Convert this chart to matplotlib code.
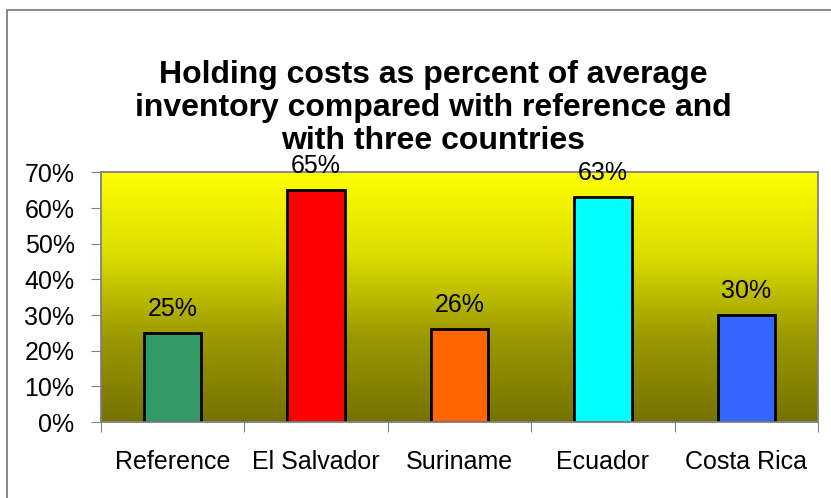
import matplotlib.pyplot as plt
import numpy as np
from matplotlib.colors import LinearSegmentedColormap
from matplotlib.patches import Rectangle

plt.rcParams['font.family'] = ['Liberation Sans', 'DejaVu Sans']

categories = ['Reference', 'El Salvador', 'Suriname', 'Ecuador', 'Costa Rica']
values = [0.25, 0.65, 0.26, 0.63, 0.30]
bar_colors = ['#339966', '#ff0000', '#ff6600', '#00ffff', '#3366ff']
yticks = [0, 0.1, 0.2, 0.3, 0.4, 0.5, 0.6, 0.7]

W, H = 831, 498
fig = plt.figure(figsize=(W / 100, H / 100), dpi=100)
ax = fig.add_axes([101 / W, 1 - 422 / H, (818 - 101) / W, (422 - 172.5) / H])

# figure border (left + top visible)
fig.patches.append(Rectangle((7 / W, -0.1), 1.2, 1 - 10 / H + 0.1, transform=fig.transFigure,
                             fill=False, edgecolor='#808080', linewidth=1.3))

x = np.arange(len(categories))
ax.set_xlim(-0.5, len(categories) - 0.5)
ax.set_ylim(0, 0.7)

# yellow-to-olive gradient background
cmap = LinearSegmentedColormap.from_list('bg', ['#767200', '#9a9800', '#dcdc00', '#ffff00'])
grad = np.linspace(0, 1, 256).reshape(-1, 1)
ax.imshow(grad, extent=[-0.5, len(categories) - 0.5, 0, 0.7], aspect='auto',
          origin='lower', cmap=cmap, zorder=0)

ax.bar(x, values, width=0.4, color=bar_colors, edgecolor='black', linewidth=2, zorder=2)
for xi, v in zip(x, values):
    ax.text(xi, v + 0.048, f'{round(v * 100)}%', ha='center', va='baseline', fontsize=18, zorder=3)

ax.set_yticks(yticks)
ax.set_yticklabels([f'{round(t * 100)}%' for t in yticks], fontsize=18)
ax.set_xticks(np.arange(-0.5, len(categories), 1))
ax.set_xticklabels([])
ax.set_xticks(x, minor=True)
ax.set_xticklabels(categories, minor=True, fontsize=18)
ax.tick_params(axis='x', which='minor', length=0, pad=20)
ax.tick_params(axis='x', which='major', length=7, color='#808080', direction='out')
ax.tick_params(axis='y', length=7, color='#808080', pad=12)
for s in ax.spines.values():
    s.set_color('#808080')
    s.set_linewidth(1.3)

fig.text(433 / W, 1 - 108 / H, 'Holding costs as percent of average\ninventory compared with reference and\nwith three countries',
         ha='center', va='center', fontsize=23, fontweight='bold', linespacing=1.13)

fig.savefig('out.png', dpi=100)
